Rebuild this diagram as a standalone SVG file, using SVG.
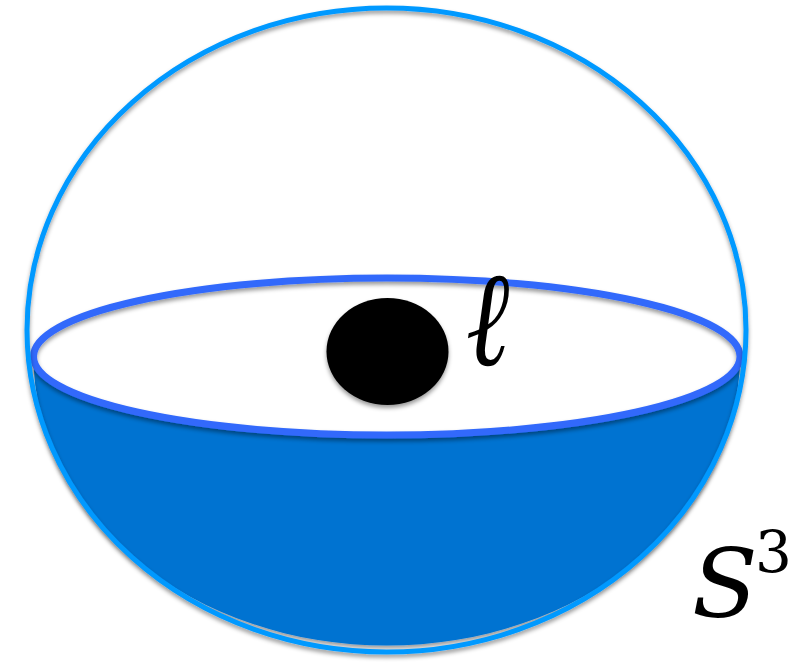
<svg xmlns="http://www.w3.org/2000/svg" width="807" height="663" viewBox="0 0 807 663">
  <defs>
    <filter id="sh" x="-10%" y="-10%" width="120%" height="130%">
      <feDropShadow dx="0" dy="3" stdDeviation="2" flood-color="#000" flood-opacity="0.4"/>
    </filter>
  </defs>
  <rect width="807" height="663" fill="#fff"/>
  <g id="bowl" filter="url(#sh)">
    <path d="M 33.5 356.5 A 353 289 0 0 0 740 356.5 A 353.25 78.5 0 0 1 33.5 356.5 Z" fill="#0073d1"/>
  </g>
  <g id="equator" filter="url(#sh)">
    <ellipse cx="386.75" cy="356.5" rx="353.25" ry="78.5" fill="none" stroke="#3269fb" stroke-width="7"/>
  </g>
  <g id="point" filter="url(#sh)">
    <ellipse cx="387.5" cy="351.5" rx="61" ry="53.5" fill="#000"/>
  </g>
  <g id="sphere" filter="url(#sh)">
    <ellipse cx="386.5" cy="330" rx="359.5" ry="322" fill="none" stroke="#0099ff" stroke-width="5"/>
  </g>
  <g id="labels" font-family="'DejaVu Serif', serif" fill="#000">
    <text transform="translate(466 365) scale(0.78 1)" x="0" y="0" font-size="134" font-style="italic">ℓ</text>
    <text x="692" y="617" font-size="96" font-style="italic">S</text>
    <text x="755" y="572" font-size="58">3</text>
  </g>
</svg>
